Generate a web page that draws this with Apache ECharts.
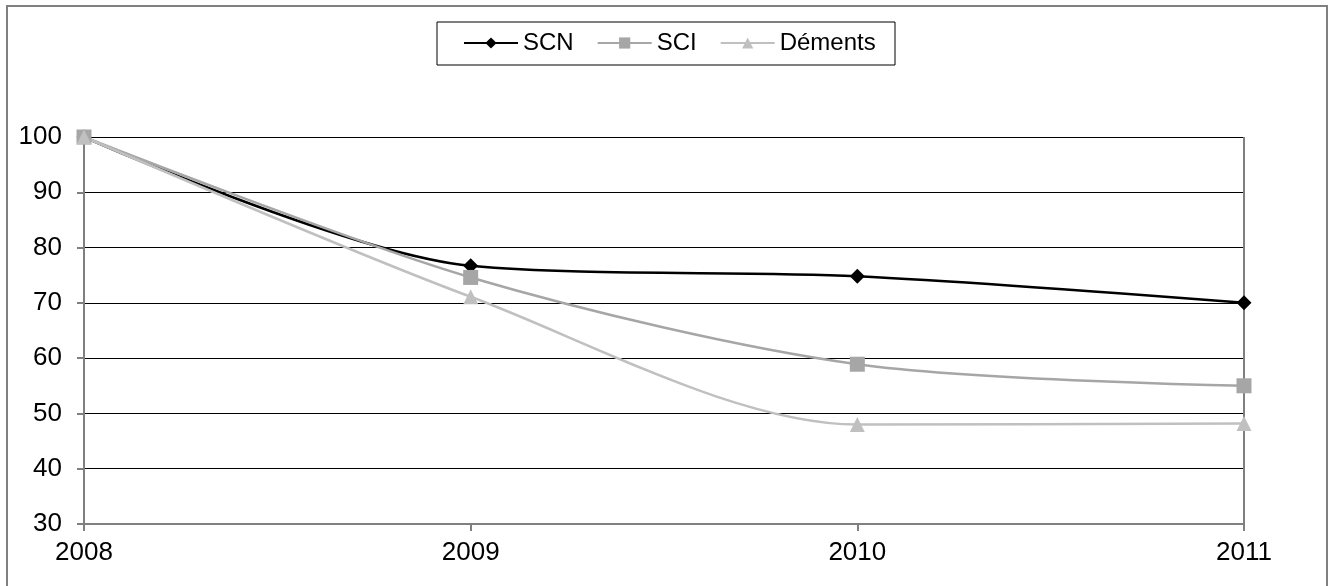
<!DOCTYPE html>
<html>
<head>
<meta charset="utf-8">
<script src="https://cdn.jsdelivr.net/npm/echarts@6/dist/echarts.min.js"></script>
<style>
  html, body { margin: 0; padding: 0; background: #fff; }
  #chart { width: 1335px; height: 586px; }
</style>
</head>
<body>
<div id="chart"></div>
<script>
var years = ['2008', '2009', '2010', '2011']
var scn = [100, 76.7, 74.8, 70.0]
var sci = [100, 74.6, 58.9, 55.0]
var dements = [100, 71.1, 48.0, 48.2]

var myChart = echarts.init(document.getElementById('chart'))
var font = 'Liberation Sans, Arial, sans-serif'

function serie (name, data, color, symbol, size) {
  return {
    name: name,
    type: 'line',
    data: data,
    smooth: 0.3,
    symbol: symbol,
    symbolSize: size,
    showAllSymbol: true,
    lineStyle: { color: color, width: 2.5 },
    itemStyle: { color: color },
    z: 3
  }
}

var option = {
  animation: false,
  textStyle: { fontFamily: font },
  graphic: [
    // cadre extérieur
    { type: 'rect', shape: { x: 7, y: 6, width: 1320, height: 590 },
      style: { fill: 'none', stroke: '#808080', lineWidth: 2 }, z: 0 },
    // bordure droite de la zone de tracé
    { type: 'line', shape: { x1: 1244, y1: 137, x2: 1244, y2: 524 },
      style: { stroke: '#808080', lineWidth: 2 }, z: 1 },
    // cadre de la légende
    { type: 'rect', shape: { x: 437, y: 22, width: 458, height: 43 },
      style: { fill: 'none', stroke: '#000', lineWidth: 1 }, z: 0 }
  ],
  legend: {
    top: 31,
    left: 463,
    padding: 0,
    itemWidth: 54,
    itemHeight: 14,
    itemGap: 23,
    textStyle: { fontFamily: font, fontSize: 24, color: '#000' },
    data: ['SCN', 'SCI', 'Déments']
  },
  grid: { left: 84, right: 91, top: 137, bottom: 62, containLabel: false },
  xAxis: {
    type: 'category',
    data: years,
    boundaryGap: false,
    axisLine: { lineStyle: { color: '#808080', width: 2 } },
    axisTick: { alignWithLabel: true, length: 7, lineStyle: { color: '#808080', width: 2 } },
    axisLabel: { fontFamily: font, fontSize: 26, color: '#000', margin: 16 }
  },
  yAxis: {
    type: 'value',
    min: 30,
    max: 100,
    interval: 10,
    axisLine: { show: true, lineStyle: { color: '#808080', width: 2 } },
    axisTick: { show: true, length: 7, lineStyle: { color: '#808080', width: 2 } },
    axisLabel: { fontFamily: font, fontSize: 26, color: '#000', margin: 22 },
    splitLine: { lineStyle: { color: '#000', width: 1 } }
  },
  series: [
    serie('SCN', scn, '#000000', 'diamond', 15),
    serie('SCI', sci, '#a6a6a6', 'rect', 15),
    serie('Déments', dements, '#c0c0c0', 'triangle', 15)
  ]
}

myChart.setOption(option)
</script>
</body>
</html>
